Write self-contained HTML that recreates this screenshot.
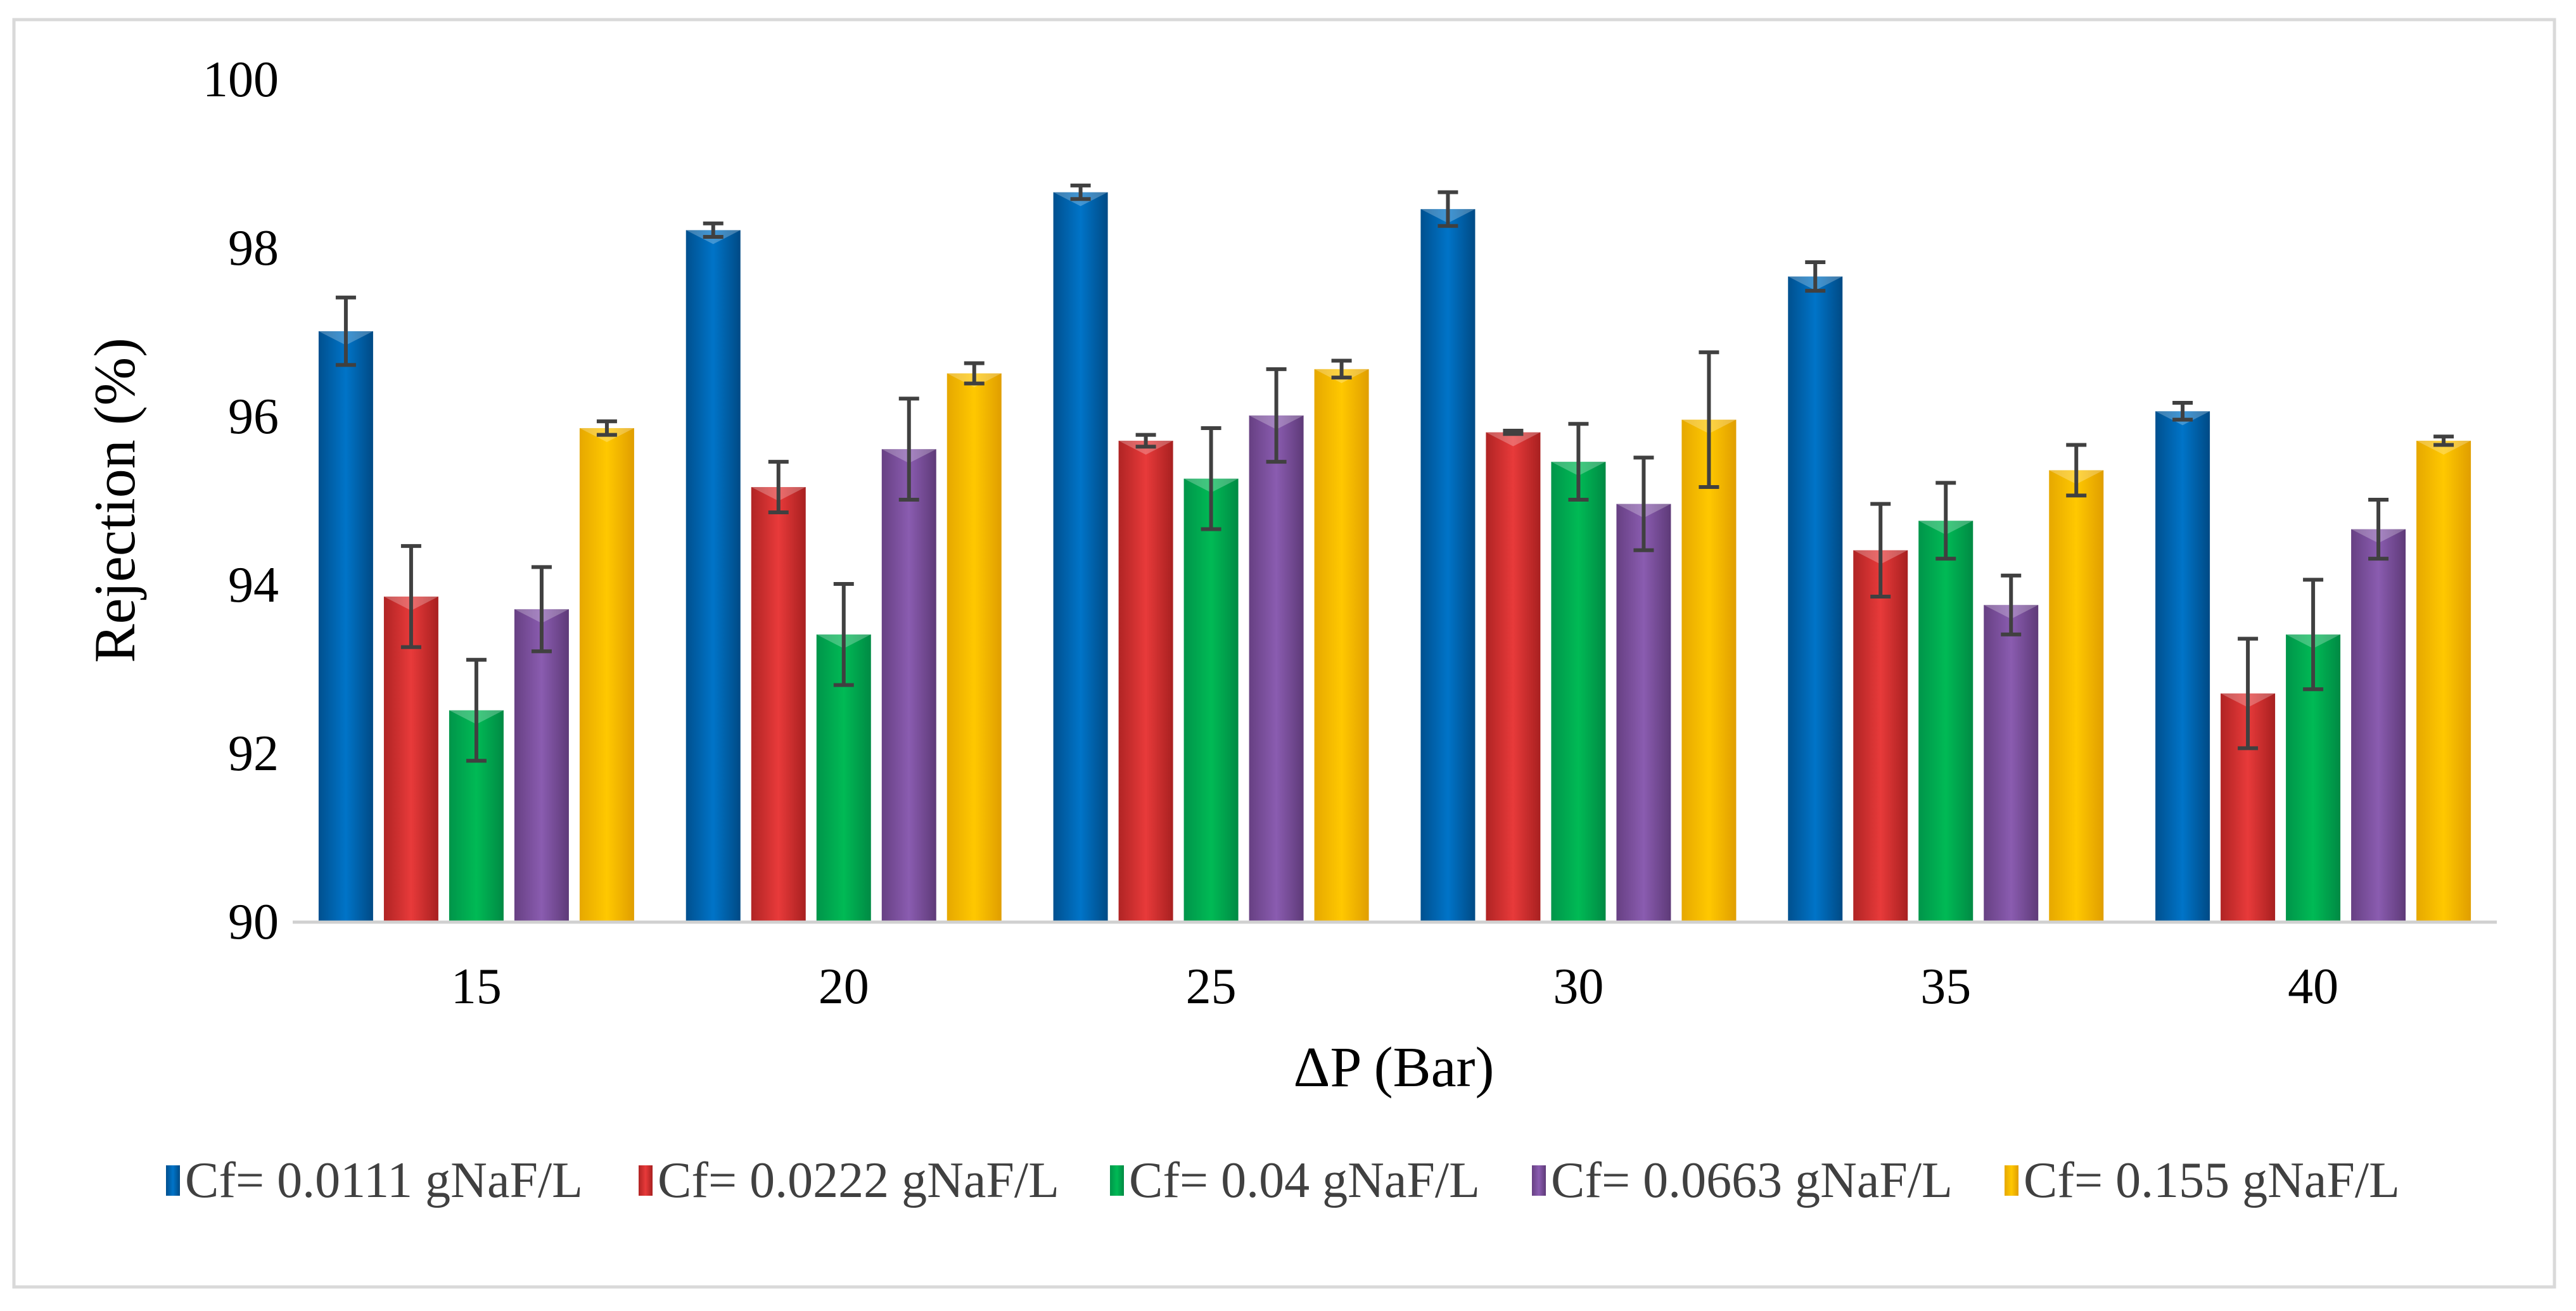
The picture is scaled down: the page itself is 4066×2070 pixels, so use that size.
<!DOCTYPE html>
<html><head><meta charset="utf-8"><style>
html,body{margin:0;padding:0;background:#fff;}
svg{display:block;font-family:"Liberation Serif",serif;}
</style></head><body>
<svg id="chart" width="4066" height="2070" viewBox="0 0 4066 2070" xmlns="http://www.w3.org/2000/svg">
<defs>
<linearGradient id="g0" x1="0" x2="1"><stop offset="0" stop-color="#00508f"/><stop offset="0.5" stop-color="#0074c8"/><stop offset="1" stop-color="#004a85"/></linearGradient>
<linearGradient id="g1" x1="0" x2="1"><stop offset="0" stop-color="#b02424"/><stop offset="0.5" stop-color="#e83a3a"/><stop offset="1" stop-color="#a82020"/></linearGradient>
<linearGradient id="g2" x1="0" x2="1"><stop offset="0" stop-color="#00954a"/><stop offset="0.5" stop-color="#00ba55"/><stop offset="1" stop-color="#008a44"/></linearGradient>
<linearGradient id="g3" x1="0" x2="1"><stop offset="0" stop-color="#674083"/><stop offset="0.5" stop-color="#8a5cb0"/><stop offset="1" stop-color="#5e3a78"/></linearGradient>
<linearGradient id="g4" x1="0" x2="1"><stop offset="0" stop-color="#e6a800"/><stop offset="0.5" stop-color="#ffc800"/><stop offset="1" stop-color="#e09e00"/></linearGradient>
</defs>
<rect x="22" y="31" width="4010" height="2001" fill="#fff" stroke="#d9d9d9" stroke-width="5"/>
<g id="plot"></g>
<text transform="translate(212,790) rotate(-90)" text-anchor="middle" font-size="92" fill="#000">Rejection (%)</text>
<text x="2200" y="1715" text-anchor="middle" font-size="90" fill="#000">ΔP (Bar)</text>
<g id="legend"></g>
</svg>
<script>
const categories = ["15","20","25","30","35","40"];
const seriesNames = ["Cf= 0.0111 gNaF/L","Cf= 0.0222 gNaF/L","Cf= 0.04 gNaF/L","Cf= 0.0663 gNaF/L","Cf= 0.155 gNaF/L"];
const s1 = [97.0, 98.2, 98.65, 98.45, 97.65, 96.05];
const s2 = [93.85, 95.15, 95.7, 95.8, 94.4, 92.7];
const s3 = [92.5, 93.4, 95.25, 95.45, 94.75, 93.4];
const s4 = [93.7, 95.6, 96.0, 94.95, 93.75, 94.65];
const s5 = [95.85, 96.5, 96.55, 95.95, 95.35, 95.7];
const e1 = [0.4, 0.08, 0.08, 0.2, 0.17, 0.1];
const e2 = [0.6, 0.3, 0.07, 0.02, 0.55, 0.65];
const e3 = [0.6, 0.6, 0.6, 0.45, 0.45, 0.65];
const e4 = [0.5, 0.6, 0.55, 0.55, 0.35, 0.35];
const e5 = [0.08, 0.12, 0.1, 0.8, 0.3, 0.05];
const yTicks = [90, 92, 94, 96, 98, 100];

const series = [s1,s2,s3,s4,s5];
const errs = [e1,e2,e3,e4,e5];
const NS = "http://www.w3.org/2000/svg";
const yMin = 90, yMax = 100, yBot = 1454, yTop = 124;
const xL = 462, xR = 3941;
function y(v){ return yBot - (v - yMin) / (yMax - yMin) * (yBot - yTop); }
const groupW = (xR - xL) / categories.length;
function xc(i){ return xL + groupW * (i + 0.5); }
const pitch = 103, bw = 86;
function mk(tag, attrs, parent){ const e = document.createElementNS(NS, tag); for (const k in attrs) e.setAttribute(k, attrs[k]); parent.appendChild(e); return e; }
const plot = document.getElementById('plot');

yTicks.forEach(t => {
  const tx = mk('text', {x: 440, y: y(t) + 28, 'text-anchor': 'end', 'font-size': 80, fill: '#000'}, plot);
  
  
  tx.textContent = t;
});
categories.forEach((c, i) => {
  const tx = mk('text', {x: xc(i), y: 1584, 'text-anchor': 'middle', 'font-size': 80, fill: '#000'}, plot);
  
  
  tx.textContent = c;
  series.forEach((s, k) => {
    const cx = xc(i) + (k - 2) * pitch;
    const top = y(s[i]);
    const r = mk('rect', {x: cx - bw/2, y: top, width: bw, height: yBot - top, fill: 'url(#g' + k + ')'}, plot);
    
    
    mk('polygon', {points: (cx-bw/2)+','+top+' '+(cx+bw/2)+','+top+' '+cx+','+(top+22), fill: '#fff', opacity: 0.25}, plot);
    const e = errs[k][i];
    const g = mk('g', {stroke: '#404040', 'stroke-width': 6}, plot);
    
    
    mk('line', {x1: cx, x2: cx, y1: y(s[i]+e), y2: y(s[i]-e)}, g);
    mk('line', {x1: cx-16, x2: cx+16, y1: y(s[i]+e), y2: y(s[i]+e)}, g);
    mk('line', {x1: cx-16, x2: cx+16, y1: y(s[i]-e), y2: y(s[i]-e)}, g);
  });
});
const ax = mk('line', {x1: xL, x2: xR, y1: yBot + 2, y2: yBot + 2, stroke: '#d0d0d0', 'stroke-width': 5}, plot);



const leg = document.getElementById('legend');
const legX = [262, 1008, 1752, 2418, 3164];
seriesNames.forEach((n, k) => {
  const g = mk('g', {}, leg);
  
  
  mk('rect', {x: legX[k], y: 1840, width: 22, height: 48, fill: 'url(#g' + k + ')'}, g);
  const t = mk('text', {x: legX[k] + 30, y: 1890, 'font-size': 80, fill: '#404040'}, g);
  t.textContent = n;
});
</script>
</body></html>
